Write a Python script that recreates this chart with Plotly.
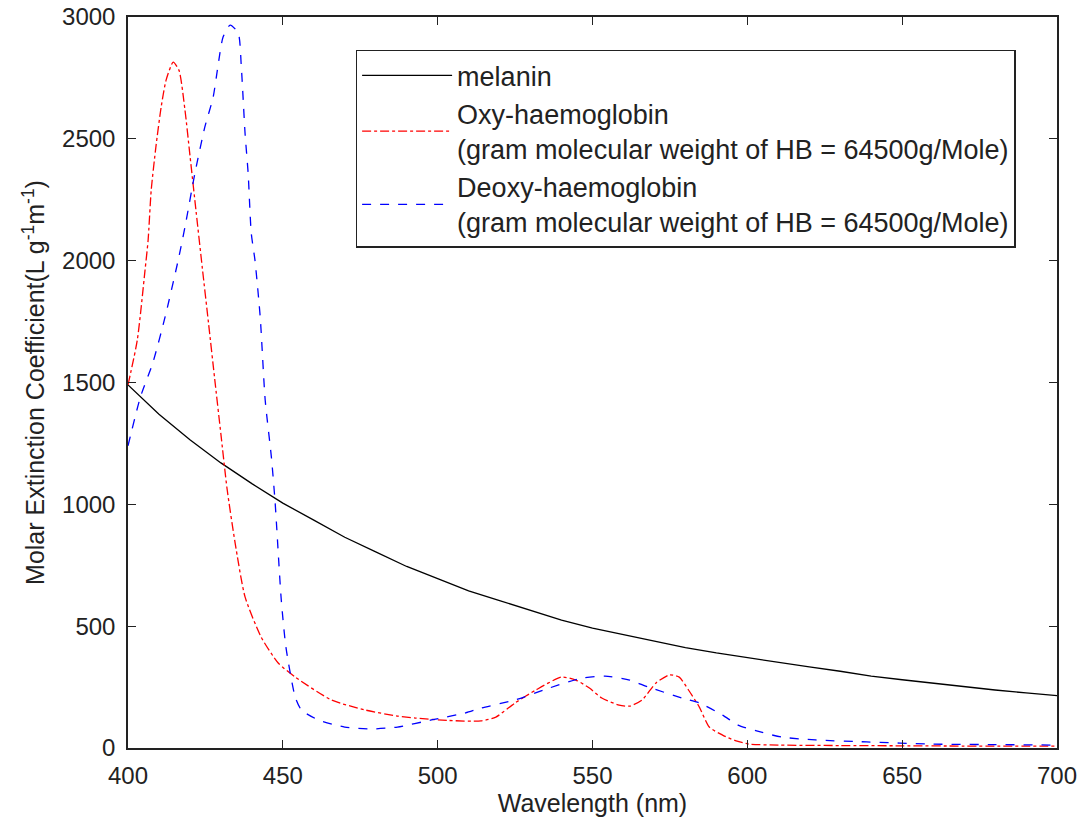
import plotly.graph_objects as go

# Melanin
mel_wl = [400, 410, 420, 430, 440, 450, 460, 470, 480, 490, 500, 510, 520, 530, 540, 550,
          560, 570, 580, 590, 600, 610, 620, 630, 640, 650, 660, 670, 680, 690, 700]
mel_val = [1490, 1370, 1265, 1170, 1085, 1005, 935, 865, 805, 745, 695, 645, 605, 565, 525, 492,
           465, 438, 412, 390, 370, 350, 333, 315, 295, 280, 265, 250, 238, 226, 215]

# Oxy-haemoglobin
oxy_wl = [400, 403, 405.5, 406.5, 407.5, 409, 410.7, 412.3, 414.6, 416.5, 418.4, 420, 422, 424,
          426, 428, 430, 432, 434.6, 437.8, 443, 448.5, 454, 465.7, 476.6, 487, 492.8, 503.5,
          514, 518.8, 525, 531.7, 540, 544.6, 549, 553, 558.6, 562, 566, 570.5, 574.8, 578, 581,
          584.5, 587.7, 592, 596.4, 600.6, 610, 630, 650, 670, 700]
oxy_val = [1490, 1674, 1961, 2085, 2290, 2466, 2630, 2741, 2815, 2780, 2618, 2433, 2200, 1970,
           1744, 1514, 1288, 1063, 841, 620, 455, 349, 291, 197, 156, 131, 123, 113,
           111, 127, 185, 238, 291, 279, 246, 205, 176, 172, 197, 267, 300, 291, 238,
           168, 86, 53, 29, 16, 12, 10, 9, 8, 8]

# Deoxy-haemoglobin
deoxy_wl = [400, 404, 408, 412, 416, 418.4, 421.6, 424.8, 427.5, 429, 430.7, 433, 435.6, 436.6,
            437.8, 438.8, 439.8, 441, 442.7, 444.3, 446.3, 447.5, 449.5, 451, 454, 456, 461.5,
            470, 478.6, 487, 498, 509, 514, 525, 536, 546.6, 554, 562, 568, 579, 584.5, 592,
            597, 603, 611, 622, 638.5, 660, 680, 700]
deoxy_val = [1240, 1440, 1580, 1770, 1990, 2138, 2359, 2548, 2671, 2794, 2918, 2967, 2934, 2794,
             2523, 2359, 2113, 2002, 1768, 1428, 1194, 1010, 607, 414, 209, 156, 115,
             86, 78, 86, 115, 144, 164, 197, 246, 287, 295, 279, 250, 205, 185, 135,
             94, 70, 45, 33, 25, 16, 14, 12]

x_ticks = [400, 450, 500, 550, 600, 650, 700]
y_ticks = [0, 500, 1000, 1500, 2000, 2500, 3000]

fig = go.Figure()
fig.add_trace(go.Scatter(x=mel_wl, y=mel_val, mode="lines", name="melanin",
                         line=dict(color="black", width=1.3)))
fig.add_trace(go.Scatter(x=oxy_wl, y=oxy_val, mode="lines",
                         name="Oxy-haemoglobin<br>(gram molecular weight of HB = 64500g/Mole)",
                         line=dict(color="#ff0000", width=1.3, dash="dashdot", shape="spline", smoothing=0.6)))
fig.add_trace(go.Scatter(x=deoxy_wl, y=deoxy_val, mode="lines",
                         name="Deoxy-haemoglobin<br>(gram molecular weight of HB = 64500g/Mole)",
                         line=dict(color="#0000ff", width=1.3, dash="dash", shape="spline", smoothing=0.6)))

axis_common = dict(showgrid=False, zeroline=False, showline=True, linecolor="#222",
                   linewidth=1.5, mirror="ticks", ticks="inside", ticklen=8, automargin=False,
                   tickcolor="#222", tickfont=dict(size=24, color="#222"))

fig.update_layout(
    width=1084, height=828,
    margin=dict(l=128, r=27, t=17, b=80),
    paper_bgcolor="white", plot_bgcolor="white",
    font=dict(family="Liberation Sans, Arial, sans-serif", color="#222", size=25),
    xaxis=dict(range=[400, 700], tickvals=x_ticks, ticklabelstandoff=5,
               title=dict(text="Wavelength (nm)", font=dict(size=25), standoff=4),
               **axis_common),
    yaxis=dict(range=[0, 3000], tickvals=y_ticks, ticklabelstandoff=6,
               title=dict(text="Molar Extinction Coefficient(L g<sup>-1</sup>m<sup>-1</sup>)", font=dict(size=25), standoff=10),
               **axis_common),
    legend=dict(x=0.245, y=0.955, xanchor="left", yanchor="top", bgcolor="white",
                bordercolor="#222", borderwidth=1.5, font=dict(size=27, color="#222"),
                itemwidth=90, tracegroupgap=0),
    showlegend=True,
)

fig.write_html("out.html")
